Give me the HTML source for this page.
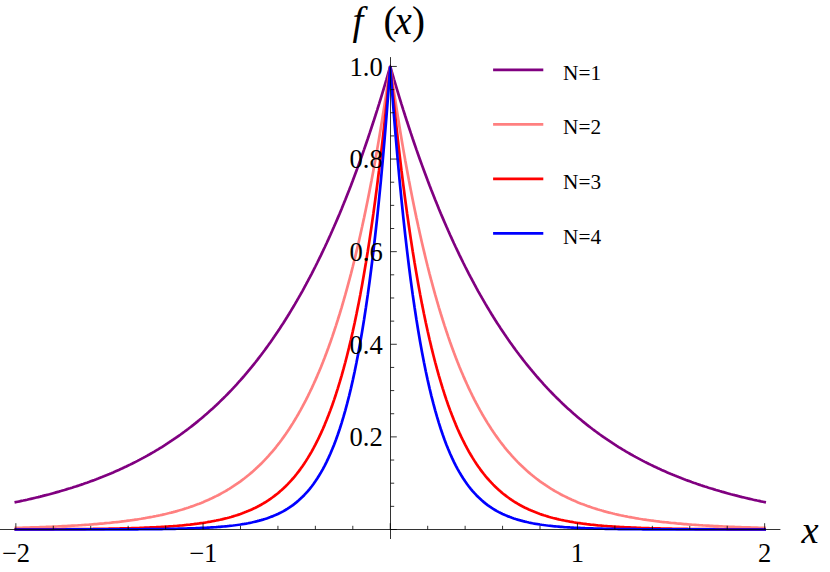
<!DOCTYPE html>
<html><head><meta charset="utf-8"><title>plot</title>
<style>
html,body{margin:0;padding:0;background:#fff;}
body{width:830px;height:572px;overflow:hidden;font-family:"Liberation Serif",serif;}
svg{display:block;}
</style></head><body>
<svg width="830" height="572" viewBox="0 0 830 572">
<rect width="830" height="572" fill="#fff"/>
<g fill="none" stroke-width="2.7" stroke-linejoin="bevel" stroke-linecap="square">
<path d="M388.95,66.75L390.25,63.95L391.55,66.75z" fill="#800080" stroke="none"/>
<path d="M15.85,502.13L17.72,501.74L19.59,501.35L21.47,500.94L23.34,500.54L25.21,500.13L27.08,499.71L28.95,499.28L30.83,498.85L32.7,498.42L34.57,497.97L36.44,497.52L38.31,497.07L40.19,496.61L42.06,496.14L43.93,495.66L45.8,495.18L47.67,494.69L49.55,494.2L51.42,493.69L53.29,493.18L55.16,492.67L57.03,492.14L58.91,491.61L60.78,491.07L62.65,490.52L64.52,489.97L66.39,489.41L68.27,488.83L70.14,488.26L72.01,487.67L73.88,487.07L75.75,486.47L77.63,485.85L79.5,485.23L81.37,484.6L83.24,483.96L85.11,483.31L86.99,482.66L88.86,481.99L90.73,481.31L92.6,480.63L94.47,479.93L96.35,479.22L98.22,478.51L100.09,477.78L101.96,477.05L103.83,476.3L105.71,475.54L107.58,474.77L109.45,473.99L111.32,473.2L113.19,472.4L115.07,471.59L116.94,470.76L118.81,469.93L120.68,469.08L122.55,468.22L124.43,467.34L126.3,466.46L128.17,465.56L130.04,464.65L131.91,463.73L133.79,462.79L135.66,461.84L137.53,460.88L139.4,459.9L141.27,458.91L143.15,457.9L145.02,456.88L146.89,455.85L148.76,454.8L150.63,453.73L152.51,452.66L154.38,451.56L156.25,450.45L158.12,449.33L159.99,448.18L161.87,447.03L163.74,445.85L165.61,444.66L167.48,443.45L169.35,442.23L171.23,440.98L173.1,439.72L174.97,438.44L176.84,437.15L178.71,435.83L180.59,434.5L182.46,433.14L184.33,431.77L186.2,430.38L188.07,428.97L189.95,427.54L191.82,426.08L193.69,424.61L195.56,423.12L197.43,421.6L199.31,420.06L201.18,418.51L203.05,416.92L204.92,415.32L206.79,413.7L208.67,412.05L210.54,410.37L212.41,408.68L214.28,406.96L216.15,405.21L218.03,403.44L219.9,401.64L221.77,399.82L223.64,397.98L225.51,396.1L227.39,394.2L229.26,392.28L231.13,390.32L233,388.34L234.87,386.33L236.75,384.29L238.62,382.22L240.49,380.12L242.36,378L244.23,375.84L246.11,373.65L247.98,371.43L249.85,369.18L251.72,366.9L253.59,364.58L255.47,362.23L257.34,359.85L259.21,357.43L261.08,354.98L262.95,352.5L264.83,349.98L266.7,347.42L268.57,344.83L270.44,342.19L272.31,339.53L274.19,336.82L276.06,334.08L277.93,331.29L279.8,328.47L281.67,325.61L283.55,322.7L285.42,319.76L287.29,316.77L289.16,313.74L291.03,310.67L292.91,307.55L294.78,304.39L296.65,301.18L298.52,297.93L300.39,294.63L302.27,291.29L304.14,287.9L306.01,284.46L307.88,280.97L309.75,277.43L311.63,273.84L313.5,270.19L315.37,266.5L317.24,262.76L319.11,258.96L320.99,255.1L322.86,251.19L324.73,247.23L326.6,243.21L328.47,239.13L330.35,235L332.22,230.8L334.09,226.55L335.96,222.23L337.83,217.86L339.71,213.42L341.58,208.92L343.45,204.35L345.32,199.72L347.19,195.02L349.07,190.26L350.94,185.43L352.81,180.53L354.68,175.56L356.55,170.52L358.43,165.4L360.3,160.22L362.17,154.96L364.04,149.62L365.91,144.21L367.79,138.73L369.66,133.16L371.53,127.52L373.4,121.79L375.27,115.98L377.15,110.09L379.02,104.12L380.89,98.06L382.76,91.92L384.63,85.68L386.51,79.36L388.38,72.95L390.25,66.45L392.12,72.95L393.99,79.36L395.87,85.68L397.74,91.92L399.61,98.06L401.48,104.12L403.35,110.09L405.23,115.98L407.1,121.79L408.97,127.52L410.84,133.16L412.71,138.73L414.59,144.21L416.46,149.62L418.33,154.96L420.2,160.22L422.07,165.4L423.95,170.52L425.82,175.56L427.69,180.53L429.56,185.43L431.43,190.26L433.31,195.02L435.18,199.72L437.05,204.35L438.92,208.92L440.79,213.42L442.67,217.86L444.54,222.23L446.41,226.55L448.28,230.8L450.15,235L452.03,239.13L453.9,243.21L455.77,247.23L457.64,251.19L459.51,255.1L461.39,258.96L463.26,262.76L465.13,266.5L467,270.19L468.87,273.84L470.75,277.43L472.62,280.97L474.49,284.46L476.36,287.9L478.23,291.29L480.11,294.63L481.98,297.93L483.85,301.18L485.72,304.39L487.59,307.55L489.47,310.67L491.34,313.74L493.21,316.77L495.08,319.76L496.95,322.7L498.83,325.61L500.7,328.47L502.57,331.29L504.44,334.08L506.31,336.82L508.19,339.53L510.06,342.19L511.93,344.83L513.8,347.42L515.67,349.98L517.55,352.5L519.42,354.98L521.29,357.43L523.16,359.85L525.03,362.23L526.91,364.58L528.78,366.9L530.65,369.18L532.52,371.43L534.39,373.65L536.27,375.84L538.14,378L540.01,380.12L541.88,382.22L543.75,384.29L545.63,386.33L547.5,388.34L549.37,390.32L551.24,392.28L553.11,394.2L554.99,396.1L556.86,397.98L558.73,399.82L560.6,401.64L562.47,403.44L564.35,405.21L566.22,406.96L568.09,408.68L569.96,410.37L571.83,412.05L573.71,413.7L575.58,415.32L577.45,416.92L579.32,418.51L581.19,420.06L583.07,421.6L584.94,423.12L586.81,424.61L588.68,426.08L590.55,427.54L592.43,428.97L594.3,430.38L596.17,431.77L598.04,433.14L599.91,434.5L601.79,435.83L603.66,437.15L605.53,438.44L607.4,439.72L609.27,440.98L611.15,442.23L613.02,443.45L614.89,444.66L616.76,445.85L618.63,447.03L620.51,448.18L622.38,449.33L624.25,450.45L626.12,451.56L627.99,452.66L629.87,453.73L631.74,454.8L633.61,455.85L635.48,456.88L637.35,457.9L639.23,458.91L641.1,459.9L642.97,460.88L644.84,461.84L646.71,462.79L648.59,463.73L650.46,464.65L652.33,465.56L654.2,466.46L656.07,467.34L657.95,468.22L659.82,469.08L661.69,469.93L663.56,470.76L665.43,471.59L667.31,472.4L669.18,473.2L671.05,473.99L672.92,474.77L674.79,475.54L676.67,476.3L678.54,477.05L680.41,477.78L682.28,478.51L684.15,479.22L686.03,479.93L687.9,480.63L689.77,481.31L691.64,481.99L693.51,482.66L695.39,483.31L697.26,483.96L699.13,484.6L701,485.23L702.87,485.85L704.75,486.47L706.62,487.07L708.49,487.67L710.36,488.26L712.23,488.83L714.11,489.41L715.98,489.97L717.85,490.52L719.72,491.07L721.59,491.61L723.47,492.14L725.34,492.67L727.21,493.18L729.08,493.69L730.95,494.2L732.83,494.69L734.7,495.18L736.57,495.66L738.44,496.14L740.31,496.61L742.19,497.07L744.06,497.52L745.93,497.97L747.8,498.42L749.67,498.85L751.55,499.28L753.42,499.71L755.29,500.13L757.16,500.54L759.03,500.94L760.91,501.35L762.78,501.74L764.65,502.13" stroke="#800080"/>
<path d="M15.85,527.88L17.72,527.84L19.59,527.79L21.47,527.74L23.34,527.69L25.21,527.64L27.08,527.58L28.95,527.53L30.83,527.47L32.7,527.41L34.57,527.35L36.44,527.29L38.31,527.23L40.19,527.16L42.06,527.1L43.93,527.03L45.8,526.96L47.67,526.88L49.55,526.81L51.42,526.73L53.29,526.65L55.16,526.57L57.03,526.49L58.91,526.4L60.78,526.31L62.65,526.22L64.52,526.13L66.39,526.03L68.27,525.93L70.14,525.83L72.01,525.72L73.88,525.61L75.75,525.5L77.63,525.39L79.5,525.27L81.37,525.15L83.24,525.02L85.11,524.89L86.99,524.76L88.86,524.63L90.73,524.49L92.6,524.34L94.47,524.19L96.35,524.04L98.22,523.88L100.09,523.72L101.96,523.56L103.83,523.39L105.71,523.21L107.58,523.03L109.45,522.85L111.32,522.66L113.19,522.46L115.07,522.26L116.94,522.05L118.81,521.84L120.68,521.62L122.55,521.39L124.43,521.16L126.3,520.92L128.17,520.67L130.04,520.42L131.91,520.16L133.79,519.89L135.66,519.61L137.53,519.33L139.4,519.04L141.27,518.74L143.15,518.43L145.02,518.11L146.89,517.78L148.76,517.45L150.63,517.1L152.51,516.75L154.38,516.38L156.25,516.01L158.12,515.62L159.99,515.22L161.87,514.81L163.74,514.39L165.61,513.96L167.48,513.51L169.35,513.05L171.23,512.58L173.1,512.09L174.97,511.59L176.84,511.08L178.71,510.55L180.59,510.01L182.46,509.45L184.33,508.87L186.2,508.28L188.07,507.67L189.95,507.05L191.82,506.4L193.69,505.74L195.56,505.06L197.43,504.36L199.31,503.64L201.18,502.89L203.05,502.13L204.92,501.35L206.79,500.54L208.67,499.71L210.54,498.85L212.41,497.97L214.28,497.07L216.15,496.14L218.03,495.18L219.9,494.2L221.77,493.18L223.64,492.14L225.51,491.07L227.39,489.97L229.26,488.83L231.13,487.67L233,486.47L234.87,485.23L236.75,483.96L238.62,482.66L240.49,481.31L242.36,479.93L244.23,478.51L246.11,477.05L247.98,475.54L249.85,473.99L251.72,472.4L253.59,470.76L255.47,469.08L257.34,467.34L259.21,465.56L261.08,463.73L262.95,461.84L264.83,459.9L266.7,457.9L268.57,455.85L270.44,453.73L272.31,451.56L274.19,449.33L276.06,447.03L277.93,444.66L279.8,442.23L281.67,439.72L283.55,437.15L285.42,434.5L287.29,431.77L289.16,428.97L291.03,426.08L292.91,423.12L294.78,420.06L296.65,416.92L298.52,413.7L300.39,410.37L302.27,406.96L304.14,403.44L306.01,399.82L307.88,396.1L309.75,392.28L311.63,388.34L313.5,384.29L315.37,380.12L317.24,375.84L319.11,371.43L320.99,366.9L322.86,362.23L324.73,357.43L326.6,352.5L328.47,347.42L330.35,342.19L332.22,336.82L334.09,331.29L335.96,325.61L337.83,319.76L339.71,313.74L341.58,307.55L343.45,301.18L345.32,294.63L347.19,287.9L349.07,280.97L350.94,273.84L352.81,266.5L354.68,258.96L356.55,251.19L358.43,243.21L360.3,235L362.17,226.55L364.04,217.86L365.91,208.92L367.79,199.72L369.66,190.26L371.53,180.53L373.4,170.52L375.27,160.22L377.15,149.62L379.02,138.73L380.89,127.52L382.76,115.98L384.63,104.12L386.51,91.92L388.38,79.36L390.25,66.45L392.12,79.36L393.99,91.92L395.87,104.12L397.74,115.98L399.61,127.52L401.48,138.73L403.35,149.62L405.23,160.22L407.1,170.52L408.97,180.53L410.84,190.26L412.71,199.72L414.59,208.92L416.46,217.86L418.33,226.55L420.2,235L422.07,243.21L423.95,251.19L425.82,258.96L427.69,266.5L429.56,273.84L431.43,280.97L433.31,287.9L435.18,294.63L437.05,301.18L438.92,307.55L440.79,313.74L442.67,319.76L444.54,325.61L446.41,331.29L448.28,336.82L450.15,342.19L452.03,347.42L453.9,352.5L455.77,357.43L457.64,362.23L459.51,366.9L461.39,371.43L463.26,375.84L465.13,380.12L467,384.29L468.87,388.34L470.75,392.28L472.62,396.1L474.49,399.82L476.36,403.44L478.23,406.96L480.11,410.37L481.98,413.7L483.85,416.92L485.72,420.06L487.59,423.12L489.47,426.08L491.34,428.97L493.21,431.77L495.08,434.5L496.95,437.15L498.83,439.72L500.7,442.23L502.57,444.66L504.44,447.03L506.31,449.33L508.19,451.56L510.06,453.73L511.93,455.85L513.8,457.9L515.67,459.9L517.55,461.84L519.42,463.73L521.29,465.56L523.16,467.34L525.03,469.08L526.91,470.76L528.78,472.4L530.65,473.99L532.52,475.54L534.39,477.05L536.27,478.51L538.14,479.93L540.01,481.31L541.88,482.66L543.75,483.96L545.63,485.23L547.5,486.47L549.37,487.67L551.24,488.83L553.11,489.97L554.99,491.07L556.86,492.14L558.73,493.18L560.6,494.2L562.47,495.18L564.35,496.14L566.22,497.07L568.09,497.97L569.96,498.85L571.83,499.71L573.71,500.54L575.58,501.35L577.45,502.13L579.32,502.89L581.19,503.64L583.07,504.36L584.94,505.06L586.81,505.74L588.68,506.4L590.55,507.05L592.43,507.67L594.3,508.28L596.17,508.87L598.04,509.45L599.91,510.01L601.79,510.55L603.66,511.08L605.53,511.59L607.4,512.09L609.27,512.58L611.15,513.05L613.02,513.51L614.89,513.96L616.76,514.39L618.63,514.81L620.51,515.22L622.38,515.62L624.25,516.01L626.12,516.38L627.99,516.75L629.87,517.1L631.74,517.45L633.61,517.78L635.48,518.11L637.35,518.43L639.23,518.74L641.1,519.04L642.97,519.33L644.84,519.61L646.71,519.89L648.59,520.16L650.46,520.42L652.33,520.67L654.2,520.92L656.07,521.16L657.95,521.39L659.82,521.62L661.69,521.84L663.56,522.05L665.43,522.26L667.31,522.46L669.18,522.66L671.05,522.85L672.92,523.03L674.79,523.21L676.67,523.39L678.54,523.56L680.41,523.72L682.28,523.88L684.15,524.04L686.03,524.19L687.9,524.34L689.77,524.49L691.64,524.63L693.51,524.76L695.39,524.89L697.26,525.02L699.13,525.15L701,525.27L702.87,525.39L704.75,525.5L706.62,525.61L708.49,525.72L710.36,525.83L712.23,525.93L714.11,526.03L715.98,526.13L717.85,526.22L719.72,526.31L721.59,526.4L723.47,526.49L725.34,526.57L727.21,526.65L729.08,526.73L730.95,526.81L732.83,526.88L734.7,526.96L736.57,527.03L738.44,527.1L740.31,527.16L742.19,527.23L744.06,527.29L745.93,527.35L747.8,527.41L749.67,527.47L751.55,527.53L753.42,527.58L755.29,527.64L757.16,527.69L759.03,527.74L760.91,527.79L762.78,527.84L764.65,527.88" stroke="#ff8080"/>
<path d="M15.85,529.4L17.72,529.4L19.59,529.4L21.47,529.39L23.34,529.39L25.21,529.38L27.08,529.38L28.95,529.37L30.83,529.37L32.7,529.36L34.57,529.35L36.44,529.35L38.31,529.34L40.19,529.33L42.06,529.33L43.93,529.32L45.8,529.31L47.67,529.3L49.55,529.29L51.42,529.29L53.29,529.28L55.16,529.27L57.03,529.26L58.91,529.25L60.78,529.24L62.65,529.22L64.52,529.21L66.39,529.2L68.27,529.19L70.14,529.17L72.01,529.16L73.88,529.14L75.75,529.13L77.63,529.11L79.5,529.1L81.37,529.08L83.24,529.06L85.11,529.04L86.99,529.02L88.86,529L90.73,528.98L92.6,528.96L94.47,528.93L96.35,528.91L98.22,528.88L100.09,528.85L101.96,528.83L103.83,528.8L105.71,528.77L107.58,528.74L109.45,528.7L111.32,528.67L113.19,528.63L115.07,528.59L116.94,528.55L118.81,528.51L120.68,528.47L122.55,528.43L124.43,528.38L126.3,528.33L128.17,528.28L130.04,528.23L131.91,528.17L133.79,528.12L135.66,528.06L137.53,527.99L139.4,527.93L141.27,527.86L143.15,527.79L145.02,527.71L146.89,527.64L148.76,527.56L150.63,527.47L152.51,527.38L154.38,527.29L156.25,527.2L158.12,527.1L159.99,526.99L161.87,526.88L163.74,526.77L165.61,526.65L167.48,526.53L169.35,526.4L171.23,526.27L173.1,526.13L174.97,525.98L176.84,525.83L178.71,525.67L180.59,525.5L182.46,525.33L184.33,525.15L186.2,524.96L188.07,524.76L189.95,524.56L191.82,524.34L193.69,524.12L195.56,523.88L197.43,523.64L199.31,523.39L201.18,523.12L203.05,522.85L204.92,522.56L206.79,522.26L208.67,521.94L210.54,521.62L212.41,521.27L214.28,520.92L216.15,520.55L218.03,520.16L219.9,519.75L221.77,519.33L223.64,518.89L225.51,518.43L227.39,517.95L229.26,517.45L231.13,516.93L233,516.38L234.87,515.81L236.75,515.22L238.62,514.6L240.49,513.96L242.36,513.28L244.23,512.58L246.11,511.85L247.98,511.08L249.85,510.28L251.72,509.45L253.59,508.58L255.47,507.67L257.34,506.73L259.21,505.74L261.08,504.71L262.95,503.64L264.83,502.52L266.7,501.35L268.57,500.13L270.44,498.85L272.31,497.52L274.19,496.14L276.06,494.69L277.93,493.18L279.8,491.61L281.67,489.97L283.55,488.26L285.42,486.47L287.29,484.6L289.16,482.66L291.03,480.63L292.91,478.51L294.78,476.3L296.65,473.99L298.52,471.59L300.39,469.08L302.27,466.46L304.14,463.73L306.01,460.88L307.88,457.9L309.75,454.8L311.63,451.56L313.5,448.18L315.37,444.66L317.24,440.98L319.11,437.15L320.99,433.14L322.86,428.97L324.73,424.61L326.6,420.06L328.47,415.32L330.35,410.37L332.22,405.21L334.09,399.82L335.96,394.2L337.83,388.34L339.71,382.22L341.58,375.84L343.45,369.18L345.32,362.23L347.19,354.98L349.07,347.42L350.94,339.53L352.81,331.29L354.68,322.7L356.55,313.74L358.43,304.39L360.3,294.63L362.17,284.46L364.04,273.84L365.91,262.76L367.79,251.19L369.66,239.13L371.53,226.55L373.4,213.42L375.27,199.72L377.15,185.43L379.02,170.52L380.89,154.96L382.76,138.73L384.63,121.79L386.51,104.12L388.38,85.68L390.25,66.45L392.12,85.68L393.99,104.12L395.87,121.79L397.74,138.73L399.61,154.96L401.48,170.52L403.35,185.43L405.23,199.72L407.1,213.42L408.97,226.55L410.84,239.13L412.71,251.19L414.59,262.76L416.46,273.84L418.33,284.46L420.2,294.63L422.07,304.39L423.95,313.74L425.82,322.7L427.69,331.29L429.56,339.53L431.43,347.42L433.31,354.98L435.18,362.23L437.05,369.18L438.92,375.84L440.79,382.22L442.67,388.34L444.54,394.2L446.41,399.82L448.28,405.21L450.15,410.37L452.03,415.32L453.9,420.06L455.77,424.61L457.64,428.97L459.51,433.14L461.39,437.15L463.26,440.98L465.13,444.66L467,448.18L468.87,451.56L470.75,454.8L472.62,457.9L474.49,460.88L476.36,463.73L478.23,466.46L480.11,469.08L481.98,471.59L483.85,473.99L485.72,476.3L487.59,478.51L489.47,480.63L491.34,482.66L493.21,484.6L495.08,486.47L496.95,488.26L498.83,489.97L500.7,491.61L502.57,493.18L504.44,494.69L506.31,496.14L508.19,497.52L510.06,498.85L511.93,500.13L513.8,501.35L515.67,502.52L517.55,503.64L519.42,504.71L521.29,505.74L523.16,506.73L525.03,507.67L526.91,508.58L528.78,509.45L530.65,510.28L532.52,511.08L534.39,511.85L536.27,512.58L538.14,513.28L540.01,513.96L541.88,514.6L543.75,515.22L545.63,515.81L547.5,516.38L549.37,516.93L551.24,517.45L553.11,517.95L554.99,518.43L556.86,518.89L558.73,519.33L560.6,519.75L562.47,520.16L564.35,520.55L566.22,520.92L568.09,521.27L569.96,521.62L571.83,521.94L573.71,522.26L575.58,522.56L577.45,522.85L579.32,523.12L581.19,523.39L583.07,523.64L584.94,523.88L586.81,524.12L588.68,524.34L590.55,524.56L592.43,524.76L594.3,524.96L596.17,525.15L598.04,525.33L599.91,525.5L601.79,525.67L603.66,525.83L605.53,525.98L607.4,526.13L609.27,526.27L611.15,526.4L613.02,526.53L614.89,526.65L616.76,526.77L618.63,526.88L620.51,526.99L622.38,527.1L624.25,527.2L626.12,527.29L627.99,527.38L629.87,527.47L631.74,527.56L633.61,527.64L635.48,527.71L637.35,527.79L639.23,527.86L641.1,527.93L642.97,527.99L644.84,528.06L646.71,528.12L648.59,528.17L650.46,528.23L652.33,528.28L654.2,528.33L656.07,528.38L657.95,528.43L659.82,528.47L661.69,528.51L663.56,528.55L665.43,528.59L667.31,528.63L669.18,528.67L671.05,528.7L672.92,528.74L674.79,528.77L676.67,528.8L678.54,528.83L680.41,528.85L682.28,528.88L684.15,528.91L686.03,528.93L687.9,528.96L689.77,528.98L691.64,529L693.51,529.02L695.39,529.04L697.26,529.06L699.13,529.08L701,529.1L702.87,529.11L704.75,529.13L706.62,529.14L708.49,529.16L710.36,529.17L712.23,529.19L714.11,529.2L715.98,529.21L717.85,529.22L719.72,529.24L721.59,529.25L723.47,529.26L725.34,529.27L727.21,529.28L729.08,529.29L730.95,529.29L732.83,529.3L734.7,529.31L736.57,529.32L738.44,529.33L740.31,529.33L742.19,529.34L744.06,529.35L745.93,529.35L747.8,529.36L749.67,529.37L751.55,529.37L753.42,529.38L755.29,529.38L757.16,529.39L759.03,529.39L760.91,529.4L762.78,529.4L764.65,529.4" stroke="#ff0000"/>
<path d="M15.85,529.49L17.72,529.49L19.59,529.49L21.47,529.49L23.34,529.49L25.21,529.49L27.08,529.49L28.95,529.49L30.83,529.49L32.7,529.49L34.57,529.49L36.44,529.49L38.31,529.49L40.19,529.49L42.06,529.49L43.93,529.49L45.8,529.49L47.67,529.49L49.55,529.48L51.42,529.48L53.29,529.48L55.16,529.48L57.03,529.48L58.91,529.48L60.78,529.48L62.65,529.48L64.52,529.48L66.39,529.47L68.27,529.47L70.14,529.47L72.01,529.47L73.88,529.47L75.75,529.47L77.63,529.46L79.5,529.46L81.37,529.46L83.24,529.46L85.11,529.45L86.99,529.45L88.86,529.45L90.73,529.45L92.6,529.44L94.47,529.44L96.35,529.44L98.22,529.43L100.09,529.43L101.96,529.42L103.83,529.42L105.71,529.41L107.58,529.41L109.45,529.4L111.32,529.4L113.19,529.39L115.07,529.39L116.94,529.38L118.81,529.37L120.68,529.37L122.55,529.36L124.43,529.35L126.3,529.34L128.17,529.33L130.04,529.32L131.91,529.31L133.79,529.3L135.66,529.29L137.53,529.28L139.4,529.26L141.27,529.25L143.15,529.24L145.02,529.22L146.89,529.2L148.76,529.19L150.63,529.17L152.51,529.15L154.38,529.13L156.25,529.11L158.12,529.08L159.99,529.06L161.87,529.03L163.74,529.01L165.61,528.98L167.48,528.95L169.35,528.92L171.23,528.88L173.1,528.85L174.97,528.81L176.84,528.77L178.71,528.72L180.59,528.68L182.46,528.63L184.33,528.58L186.2,528.53L188.07,528.47L189.95,528.41L191.82,528.35L193.69,528.28L195.56,528.21L197.43,528.13L199.31,528.06L201.18,527.97L203.05,527.88L204.92,527.79L206.79,527.69L208.67,527.58L210.54,527.47L212.41,527.35L214.28,527.23L216.15,527.1L218.03,526.96L219.9,526.81L221.77,526.65L223.64,526.49L225.51,526.31L227.39,526.13L229.26,525.93L231.13,525.72L233,525.5L234.87,525.27L236.75,525.02L238.62,524.76L240.49,524.49L242.36,524.19L244.23,523.88L246.11,523.56L247.98,523.21L249.85,522.85L251.72,522.46L253.59,522.05L255.47,521.62L257.34,521.16L259.21,520.67L261.08,520.16L262.95,519.61L264.83,519.04L266.7,518.43L268.57,517.78L270.44,517.1L272.31,516.38L274.19,515.62L276.06,514.81L277.93,513.96L279.8,513.05L281.67,512.09L283.55,511.08L285.42,510.01L287.29,508.87L289.16,507.67L291.03,506.4L292.91,505.06L294.78,503.64L296.65,502.13L298.52,500.54L300.39,498.85L302.27,497.07L304.14,495.18L306.01,493.18L307.88,491.07L309.75,488.83L311.63,486.47L313.5,483.96L315.37,481.31L317.24,478.51L319.11,475.54L320.99,472.4L322.86,469.08L324.73,465.56L326.6,461.84L328.47,457.9L330.35,453.73L332.22,449.33L334.09,444.66L335.96,439.72L337.83,434.5L339.71,428.97L341.58,423.12L343.45,416.92L345.32,410.37L347.19,403.44L349.07,396.1L350.94,388.34L352.81,380.12L354.68,371.43L356.55,362.23L358.43,352.5L360.3,342.19L362.17,331.29L364.04,319.76L365.91,307.55L367.79,294.63L369.66,280.97L371.53,266.5L373.4,251.19L375.27,235L377.15,217.86L379.02,199.72L380.89,180.53L382.76,160.22L384.63,138.73L386.51,115.98L388.38,91.92L390.25,66.45L392.12,91.92L393.99,115.98L395.87,138.73L397.74,160.22L399.61,180.53L401.48,199.72L403.35,217.86L405.23,235L407.1,251.19L408.97,266.5L410.84,280.97L412.71,294.63L414.59,307.55L416.46,319.76L418.33,331.29L420.2,342.19L422.07,352.5L423.95,362.23L425.82,371.43L427.69,380.12L429.56,388.34L431.43,396.1L433.31,403.44L435.18,410.37L437.05,416.92L438.92,423.12L440.79,428.97L442.67,434.5L444.54,439.72L446.41,444.66L448.28,449.33L450.15,453.73L452.03,457.9L453.9,461.84L455.77,465.56L457.64,469.08L459.51,472.4L461.39,475.54L463.26,478.51L465.13,481.31L467,483.96L468.87,486.47L470.75,488.83L472.62,491.07L474.49,493.18L476.36,495.18L478.23,497.07L480.11,498.85L481.98,500.54L483.85,502.13L485.72,503.64L487.59,505.06L489.47,506.4L491.34,507.67L493.21,508.87L495.08,510.01L496.95,511.08L498.83,512.09L500.7,513.05L502.57,513.96L504.44,514.81L506.31,515.62L508.19,516.38L510.06,517.1L511.93,517.78L513.8,518.43L515.67,519.04L517.55,519.61L519.42,520.16L521.29,520.67L523.16,521.16L525.03,521.62L526.91,522.05L528.78,522.46L530.65,522.85L532.52,523.21L534.39,523.56L536.27,523.88L538.14,524.19L540.01,524.49L541.88,524.76L543.75,525.02L545.63,525.27L547.5,525.5L549.37,525.72L551.24,525.93L553.11,526.13L554.99,526.31L556.86,526.49L558.73,526.65L560.6,526.81L562.47,526.96L564.35,527.1L566.22,527.23L568.09,527.35L569.96,527.47L571.83,527.58L573.71,527.69L575.58,527.79L577.45,527.88L579.32,527.97L581.19,528.06L583.07,528.13L584.94,528.21L586.81,528.28L588.68,528.35L590.55,528.41L592.43,528.47L594.3,528.53L596.17,528.58L598.04,528.63L599.91,528.68L601.79,528.72L603.66,528.77L605.53,528.81L607.4,528.85L609.27,528.88L611.15,528.92L613.02,528.95L614.89,528.98L616.76,529.01L618.63,529.03L620.51,529.06L622.38,529.08L624.25,529.11L626.12,529.13L627.99,529.15L629.87,529.17L631.74,529.19L633.61,529.2L635.48,529.22L637.35,529.24L639.23,529.25L641.1,529.26L642.97,529.28L644.84,529.29L646.71,529.3L648.59,529.31L650.46,529.32L652.33,529.33L654.2,529.34L656.07,529.35L657.95,529.36L659.82,529.37L661.69,529.37L663.56,529.38L665.43,529.39L667.31,529.39L669.18,529.4L671.05,529.4L672.92,529.41L674.79,529.41L676.67,529.42L678.54,529.42L680.41,529.43L682.28,529.43L684.15,529.44L686.03,529.44L687.9,529.44L689.77,529.45L691.64,529.45L693.51,529.45L695.39,529.45L697.26,529.46L699.13,529.46L701,529.46L702.87,529.46L704.75,529.47L706.62,529.47L708.49,529.47L710.36,529.47L712.23,529.47L714.11,529.47L715.98,529.48L717.85,529.48L719.72,529.48L721.59,529.48L723.47,529.48L725.34,529.48L727.21,529.48L729.08,529.48L730.95,529.48L732.83,529.49L734.7,529.49L736.57,529.49L738.44,529.49L740.31,529.49L742.19,529.49L744.06,529.49L745.93,529.49L747.8,529.49L749.67,529.49L751.55,529.49L753.42,529.49L755.29,529.49L757.16,529.49L759.03,529.49L760.91,529.49L762.78,529.49L764.65,529.49" stroke="#0000ff"/>
</g>
<path d="M0,529.5H780.4M390.5,57.1V539.0M15.85,529.5v-6.3M53.29,529.5v-3.7M90.73,529.5v-3.7M128.17,529.5v-3.7M165.61,529.5v-3.7M203.05,529.5v-6.3M240.49,529.5v-3.7M277.93,529.5v-3.7M315.37,529.5v-3.7M352.81,529.5v-3.7M390.25,529.5v-6.3M427.69,529.5v-3.7M465.13,529.5v-3.7M502.57,529.5v-3.7M540.01,529.5v-3.7M577.45,529.5v-6.3M614.89,529.5v-3.7M652.33,529.5v-3.7M689.77,529.5v-3.7M727.21,529.5v-3.7M764.65,529.5v-6.3M390.5,529.5h6.3M390.5,506.35h3.7M390.5,483.19h3.7M390.5,460.04h3.7M390.5,436.89h6.3M390.5,413.74h3.7M390.5,390.58h3.7M390.5,367.43h3.7M390.5,344.28h6.3M390.5,321.13h3.7M390.5,297.98h3.7M390.5,274.82h3.7M390.5,251.67h6.3M390.5,228.52h3.7M390.5,205.36h3.7M390.5,182.21h3.7M390.5,159.06h6.3M390.5,135.91h3.7M390.5,112.75h3.7M390.5,89.6h3.7M390.5,66.45h6.3" stroke="#000" stroke-opacity="0.8" stroke-width="1" fill="none"/>
<path d="M493.1,69.8H543.3" stroke="#800080" stroke-width="2.7" fill="none"/>
<path d="M493.1,124.3H543.3" stroke="#ff8080" stroke-width="2.7" fill="none"/>
<path d="M493.1,178.8H543.3" stroke="#ff0000" stroke-width="2.7" fill="none"/>
<path d="M493.1,233.4H543.3" stroke="#0000ff" stroke-width="2.7" fill="none"/>
<g fill="#000" font-family="'Liberation Serif', serif">
<g font-size="26.6">
<text x="349.5" y="446.1">0.2</text>
<text x="349.5" y="353.5">0.4</text>
<text x="349.5" y="260.9">0.6</text>
<text x="349.5" y="168.3">0.8</text>
<text x="349.5" y="75.65">1.0</text>
<text x="15.85" y="562.05" text-anchor="middle">−2</text>
<text x="203.05" y="562.05" text-anchor="middle">−1</text>
<text x="577.45" y="562.05" text-anchor="middle">1</text>
<text x="764.65" y="562.05" text-anchor="middle">2</text>
</g>
<text y="33.7" font-size="39"><tspan x="352.5" font-style="italic">f</tspan><tspan x="383.5">(</tspan><tspan x="394.5" font-style="italic">x</tspan><tspan x="412">)</tspan></text>
<text x="801.5" y="542.5" font-size="38.5" font-style="italic">x</text>
<g font-size="21.3">
<text x="563" y="79.9">N=1</text>
<text x="563" y="134.4">N=2</text>
<text x="563" y="188.9">N=3</text>
<text x="563" y="243.5">N=4</text>
</g>
</g>
</svg></body></html>
